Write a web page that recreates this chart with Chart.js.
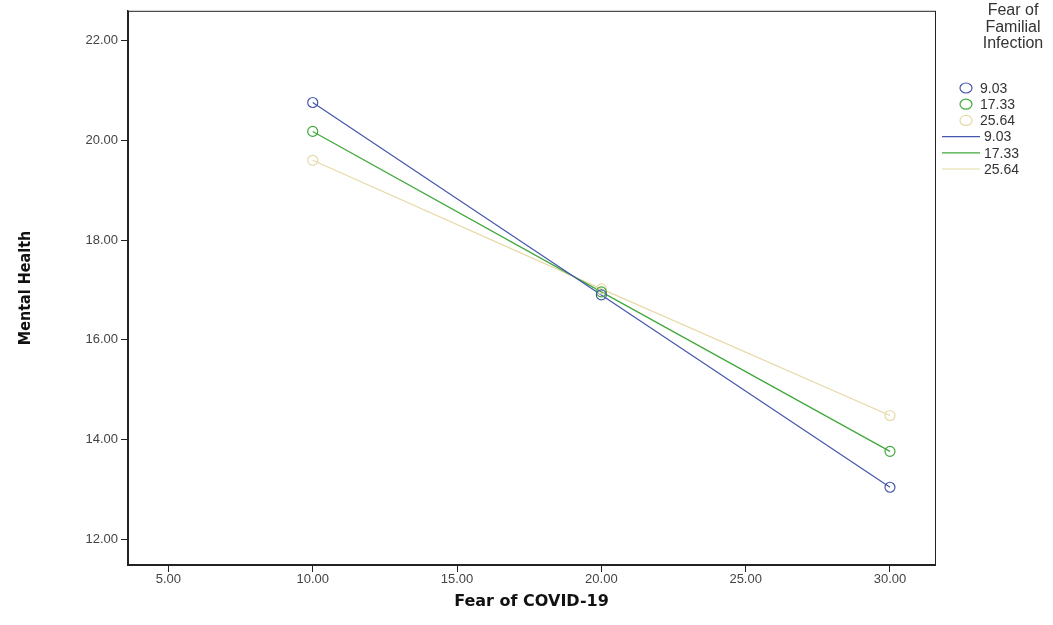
<!DOCTYPE html>
<html>
<head>
<meta charset="utf-8">
<script src="https://cdn.jsdelivr.net/npm/chart.js@4/dist/chart.umd.min.js"></script>
<style>
  html, body { margin: 0; padding: 0; background: #fff; }
  #wrap { width: 1053px; height: 625px; }
</style>
</head>
<body>
<div id="wrap"><canvas id="chart" width="1053" height="625"></canvas></div>
<script>
// data
const fearCovid = [10, 20, 30];
const groupLabels = ['9.03', '17.33', '25.64'];
const mentalLow = [20.76, 16.90, 13.04];
const mentalMid = [20.18, 16.96, 13.76];
const mentalHigh = [19.60, 17.02, 14.48];
const xTicks = [5, 10, 15, 20, 25, 30];
const yTicks = [12, 14, 16, 18, 20, 22];

const colors = ['#4657ad', '#3fa83a', '#e6d9a8'];
const series = [mentalLow, mentalMid, mentalHigh];

function toPoints(ys) {
    return fearCovid.map((x, i) => ({ x: x, y: ys[i] }));
}

const datasets = [];
// markers
series.forEach((ys, i) => {
    datasets.push({
        label: groupLabels[i],
        data: toPoints(ys),
        showLine: false,
        pointStyle: 'circle',
        pointRadius: 5,
        pointBorderWidth: 1.2,
        pointBackgroundColor: 'rgba(0,0,0,0)',
        borderColor: colors[i],
        kind: 'marker'
    });
});
// fit lines
series.forEach((ys, i) => {
    datasets.push({
        label: groupLabels[i],
        data: toPoints(ys),
        showLine: true,
        pointRadius: 0,
        borderWidth: 1.2,
        borderColor: colors[i],
        kind: 'line'
    });
});

// frame around the plot area
const framePlugin = {
    id: 'frame',
    afterDraw(chart) {
        const { ctx, chartArea: a } = chart;
        ctx.save();
        ctx.strokeStyle = '#222';
        ctx.lineWidth = 1;
        ctx.strokeRect(a.left + 0.5, a.top + 0.5, a.right - a.left, a.bottom - a.top);
        ctx.restore();
    }
};

// SPSS style legend on the right
const legendPlugin = {
    id: 'spssLegend',
    afterDraw(chart) {
        const ctx = chart.ctx;
        ctx.save();
        ctx.fillStyle = '#333';
        ctx.font = '16px "Liberation Sans", Arial, sans-serif';
        ctx.textAlign = 'center';
        ctx.textBaseline = 'middle';
        ['Fear of', 'Familial', 'Infection'].forEach((t, i) => {
            ctx.fillText(t, 1013, 11 + i * 16.5);
        });
        ctx.font = '14px "Liberation Sans", Arial, sans-serif';
        ctx.textAlign = 'left';
        let y = 88;
        chart.data.datasets.forEach(ds => {
            ctx.strokeStyle = ds.borderColor;
            ctx.lineWidth = 1.2;
            if (ds.kind === 'marker') {
                ctx.beginPath();
                ctx.ellipse(966, y, 6, 5, 0, 0, Math.PI * 2);
                ctx.stroke();
                ctx.fillStyle = '#333';
                ctx.fillText(ds.label, 980, y + 1);
            } else {
                ctx.beginPath();
                ctx.moveTo(942, y);
                ctx.lineTo(980, y);
                ctx.stroke();
                ctx.fillStyle = '#333';
                ctx.fillText(ds.label, 984, y + 1);
            }
            y += 16.2;
        });
        ctx.restore();
    }
};

const tickFont = { family: '"Liberation Sans", Arial, sans-serif', size: 13 };

new Chart(document.getElementById('chart').getContext('2d'), {
    type: 'scatter',
    data: { datasets: datasets },
    options: {
        responsive: false,
        animation: false,
        layout: { padding: { top: 9, right: 118, left: 0, bottom: 0 } },
        plugins: {
            legend: { display: false },
            tooltip: { enabled: false }
        },
        scales: {
            x: {
                type: 'linear',
                min: 3.6,
                max: 31.56,
                afterBuildTicks: s => { s.ticks = xTicks.map(v => ({ value: v })); },
                afterFit: s => { s.height = 60; },
                grid: { drawOnChartArea: false, drawTicks: true, tickLength: 7, color: '#222' },
                border: { display: true, color: '#222', width: 1.5 },
                ticks: {
                    color: '#444',
                    font: tickFont,
                    padding: 0,
                    maxRotation: 0,
                    callback: v => Number(v).toFixed(2)
                },
                title: {
                    display: true,
                    text: 'Fear of COVID-19',
                    color: '#111',
                    font: { family: '"DejaVu Sans", sans-serif', size: 16, weight: 'bold' },
                    padding: { top: 0, bottom: 14 }
                }
            },
            y: {
                type: 'linear',
                min: 11.48,
                max: 22.6,
                afterBuildTicks: s => { s.ticks = yTicks.map(v => ({ value: v })); },
                afterFit: s => { s.width = 128; },
                grid: { drawOnChartArea: false, drawTicks: true, tickLength: 7, color: '#222' },
                border: { display: true, color: '#222', width: 1.5 },
                ticks: {
                    color: '#444',
                    font: tickFont,
                    padding: 3,
                    callback: v => Number(v).toFixed(2)
                },
                title: {
                    display: true,
                    text: 'Mental Health',
                    color: '#111',
                    font: { family: '"DejaVu Sans Condensed", "Liberation Sans Narrow", sans-serif', size: 16, weight: 'bold' },
                    padding: { top: 16, bottom: 0 }
                }
            }
        }
    },
    plugins: [framePlugin, legendPlugin]
});
</script>
</body>
</html>
